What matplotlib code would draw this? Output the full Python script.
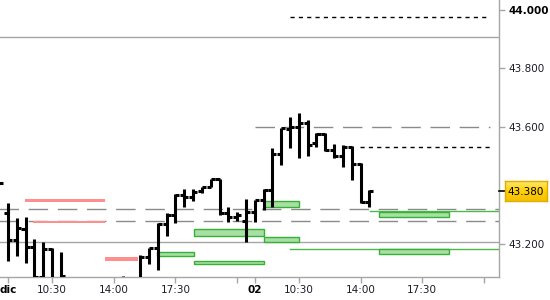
import matplotlib
matplotlib.use("Agg")
import matplotlib.pyplot as plt
import matplotlib.transforms as mtransforms
from matplotlib.collections import LineCollection
from matplotlib.patches import Rectangle
import numpy as np

# x = trading hours since 08:00 of day 1 (session 08:00-22:00, day 2 starts at 14)
bar_t = [-0.5, 0.0, 0.5, 1.0, 1.5, 2.0, 2.5, 3.0, 6.5, 7.5, 8.0, 8.5, 9.0, 9.5, 10.0,
         10.5, 11.0, 11.5, 12.0, 12.5, 13.0, 13.5, 14.0, 14.5, 15.0, 15.5, 16.0, 16.5,
         17.0, 17.5, 18.0, 18.5, 19.0, 19.5, 20.0, 20.5]
bar_open = [43.41, 43.307, 43.214, 43.250, 43.190, 43.088, 43.183, 43.060, 43.070, 43.070,
            43.157, 43.185, 43.267, 43.300, 43.368, 43.362, 43.380, 43.396, 43.421, 43.305,
            43.293, 43.280, 43.310, 43.350, 43.383, 43.507, 43.592, 43.600, 43.613, 43.545,
            43.576, 43.521, 43.501, 43.533, 43.472, 43.345]
bar_high = [43.41, 43.341, 43.289, 43.293, 43.217, 43.206, 43.185, 43.174, 43.089, 43.162,
            43.187, 43.270, 43.306, 43.370, 43.387, 43.388, 43.396, 43.421, 43.421, 43.325,
            43.310, 43.353, 43.350, 43.387, 43.527, 43.596, 43.635, 43.647, 43.624, 43.578,
            43.578, 43.541, 43.538, 43.535, 43.476, 43.385]
bar_low = [43.41, 43.143, 43.159, 43.134, 43.050, 43.050, 43.040, 43.040, 43.020, 43.050,
           43.131, 43.111, 43.227, 43.273, 43.328, 43.347, 43.374, 43.396, 43.299, 43.276,
           43.280, 43.208, 43.276, 43.316, 43.328, 43.470, 43.529, 43.495, 43.501, 43.533,
           43.519, 43.493, 43.464, 43.419, 43.339, 43.328]
bar_close = [43.41, 43.214, 43.255, 43.190, 43.088, 43.183, 43.060, 43.090, 43.060, 43.157,
             43.185, 43.267, 43.300, 43.368, 43.362, 43.378, 43.396, 43.421, 43.305, 43.293,
             43.300, 43.310, 43.350, 43.383, 43.507, 43.596, 43.600, 43.613, 43.538, 43.576,
             43.521, 43.501, 43.533, 43.472, 43.345, 43.380]
last_price = 43.380

# zones: (start, end, low, high)
red_zones = [(0.97, 5.5, 43.343, 43.354), (1.42, 5.5, 43.272, 43.279), (5.5, 7.38, 43.141, 43.156)]
green_zones = [(8.46, 10.56, 43.159, 43.173), (10.56, 14.53, 43.227, 43.251),
               (10.56, 14.53, 43.132, 43.142), (14.53, 16.51, 43.207, 43.224),
               (14.53, 16.51, 43.326, 43.347), (21.05, 25.02, 43.292, 43.309),
               (21.05, 25.02, 43.166, 43.183)]
# levels: (value, start, end, kind)
levels = [(43.908, -1, 29, "solid"), (43.207, -1, 29, "solid"),
          (43.976, 16.0, 27.35, "dot"), (43.532, 19.97, 27.35, "dot"),
          (43.600, 14.0, 27.35, "dash"), (43.319, -1, 29, "dash"), (43.279, -1, 29, "dash"),
          (43.312, 20.54, 29, "green"), (43.183, 16.0, 29, "green")]

tick_pos = [0, 2.5, 6, 9.5, 13, 14, 16.5, 20, 23.5, 27]
tick_lab = ["dic", "10:30", "14:00", "17:30", "", "02", "10:30", "14:00", "17:30", ""]
ytick_pos = [43.2, 43.6, 43.8, 44.0]
ytick_lab = ["43.200", "43.600", "43.800", "44.000"]

TXT = "#1c1c2a"
GRID = "#a6a6a6"

fig = plt.figure(figsize=(5.5, 3.0), dpi=100)
ax = fig.add_axes([0, 23 / 300, 499 / 550, 277 / 300])
ax.set_xlim(-0.448, 27.85)
ax.set_ylim(43.087, 44.034)

styles = {"solid": dict(color=GRID, lw=1.0, ls="-"),
          "dot": dict(color="black", lw=1.0, ls=(0, (3, 3))),
          "dash": dict(color="#8a8a8a", lw=1.0, ls=(0, (14, 7))),
          "green": dict(color="#4cbb4c", lw=1.0, ls="-")}
for v, a, b, kind in levels:
    ax.plot([a, b], [v, v], zorder=1, **styles[kind])

for a, b, lo, hi in red_zones:
    ax.add_patch(Rectangle((a, lo), b - a, hi - lo, fc="#ff8f8f", ec="none", zorder=2))
for a, b, lo, hi in green_zones:
    ax.add_patch(Rectangle((a, lo), b - a, hi - lo, fc="#a9dea4", ec="#36b136", lw=1.0, zorder=2))

# OHLC bars
w = 0.23
segs = []
for t, o, h, l, c in zip(bar_t, bar_open, bar_high, bar_low, bar_close):
    segs.append([(t, l), (t, h)])
    segs.append([(t - w, o), (t, o)])
    segs.append([(t, c), (t + w, c)])
ax.add_collection(LineCollection(segs, colors="black", linewidths=2.2, capstyle="butt", zorder=4))

for s in ("top", "left"):
    ax.spines[s].set_visible(False)
for s in ("bottom", "right"):
    ax.spines[s].set_color(GRID)
    ax.spines[s].set_linewidth(1.0)

ax.yaxis.tick_right()
ax.set_yticks(ytick_pos)
ax.set_yticklabels(ytick_lab)
ax.set_xticks(tick_pos)
ax.set_xticklabels(tick_lab)
ax.tick_params(axis="both", colors=GRID, labelcolor=TXT, labelsize=7.5, length=4, width=1)
ax.tick_params(axis="y", pad=3)
ax.tick_params(axis="x", pad=2)
for lab in ax.get_xticklabels():
    if lab.get_text() in ("dic", "02"):
        lab.set_fontweight("bold")
        lab.set_color("black")
ax.get_yticklabels()[-1].set_fontweight("bold")
ax.get_yticklabels()[-1].set_color("black")

# last price marker tick + yellow label
trans = mtransforms.blended_transform_factory(ax.transAxes, ax.transData)
ax.plot([1.0, 1.012], [last_price, last_price], color="black", lw=1.2, transform=trans,
        clip_on=False, zorder=5)
y_px = 277 - (last_price - 43.087) * 292.5
bax = fig.add_axes([505 / 550, (300 - y_px - 10) / 300, 42 / 550, 20 / 300])
grad = np.linspace(0, 1, 20).reshape(-1, 1)
cmap = matplotlib.colors.LinearSegmentedColormap.from_list("gold", ["#ffe866", "#ffcf0a", "#f5c000"])
bax.imshow(grad, aspect="auto", cmap=cmap, extent=(0, 1, 0, 1))
bax.set_xticks([])
bax.set_yticks([])
for s in bax.spines.values():
    s.set_color("#e0ac00")
    s.set_linewidth(1.0)
bax.text(0.5, 0.47, f"{last_price:.3f}", ha="center", va="center", fontsize=7.5, color="black",
         transform=bax.transAxes)

fig.savefig("out.png", dpi=100)
